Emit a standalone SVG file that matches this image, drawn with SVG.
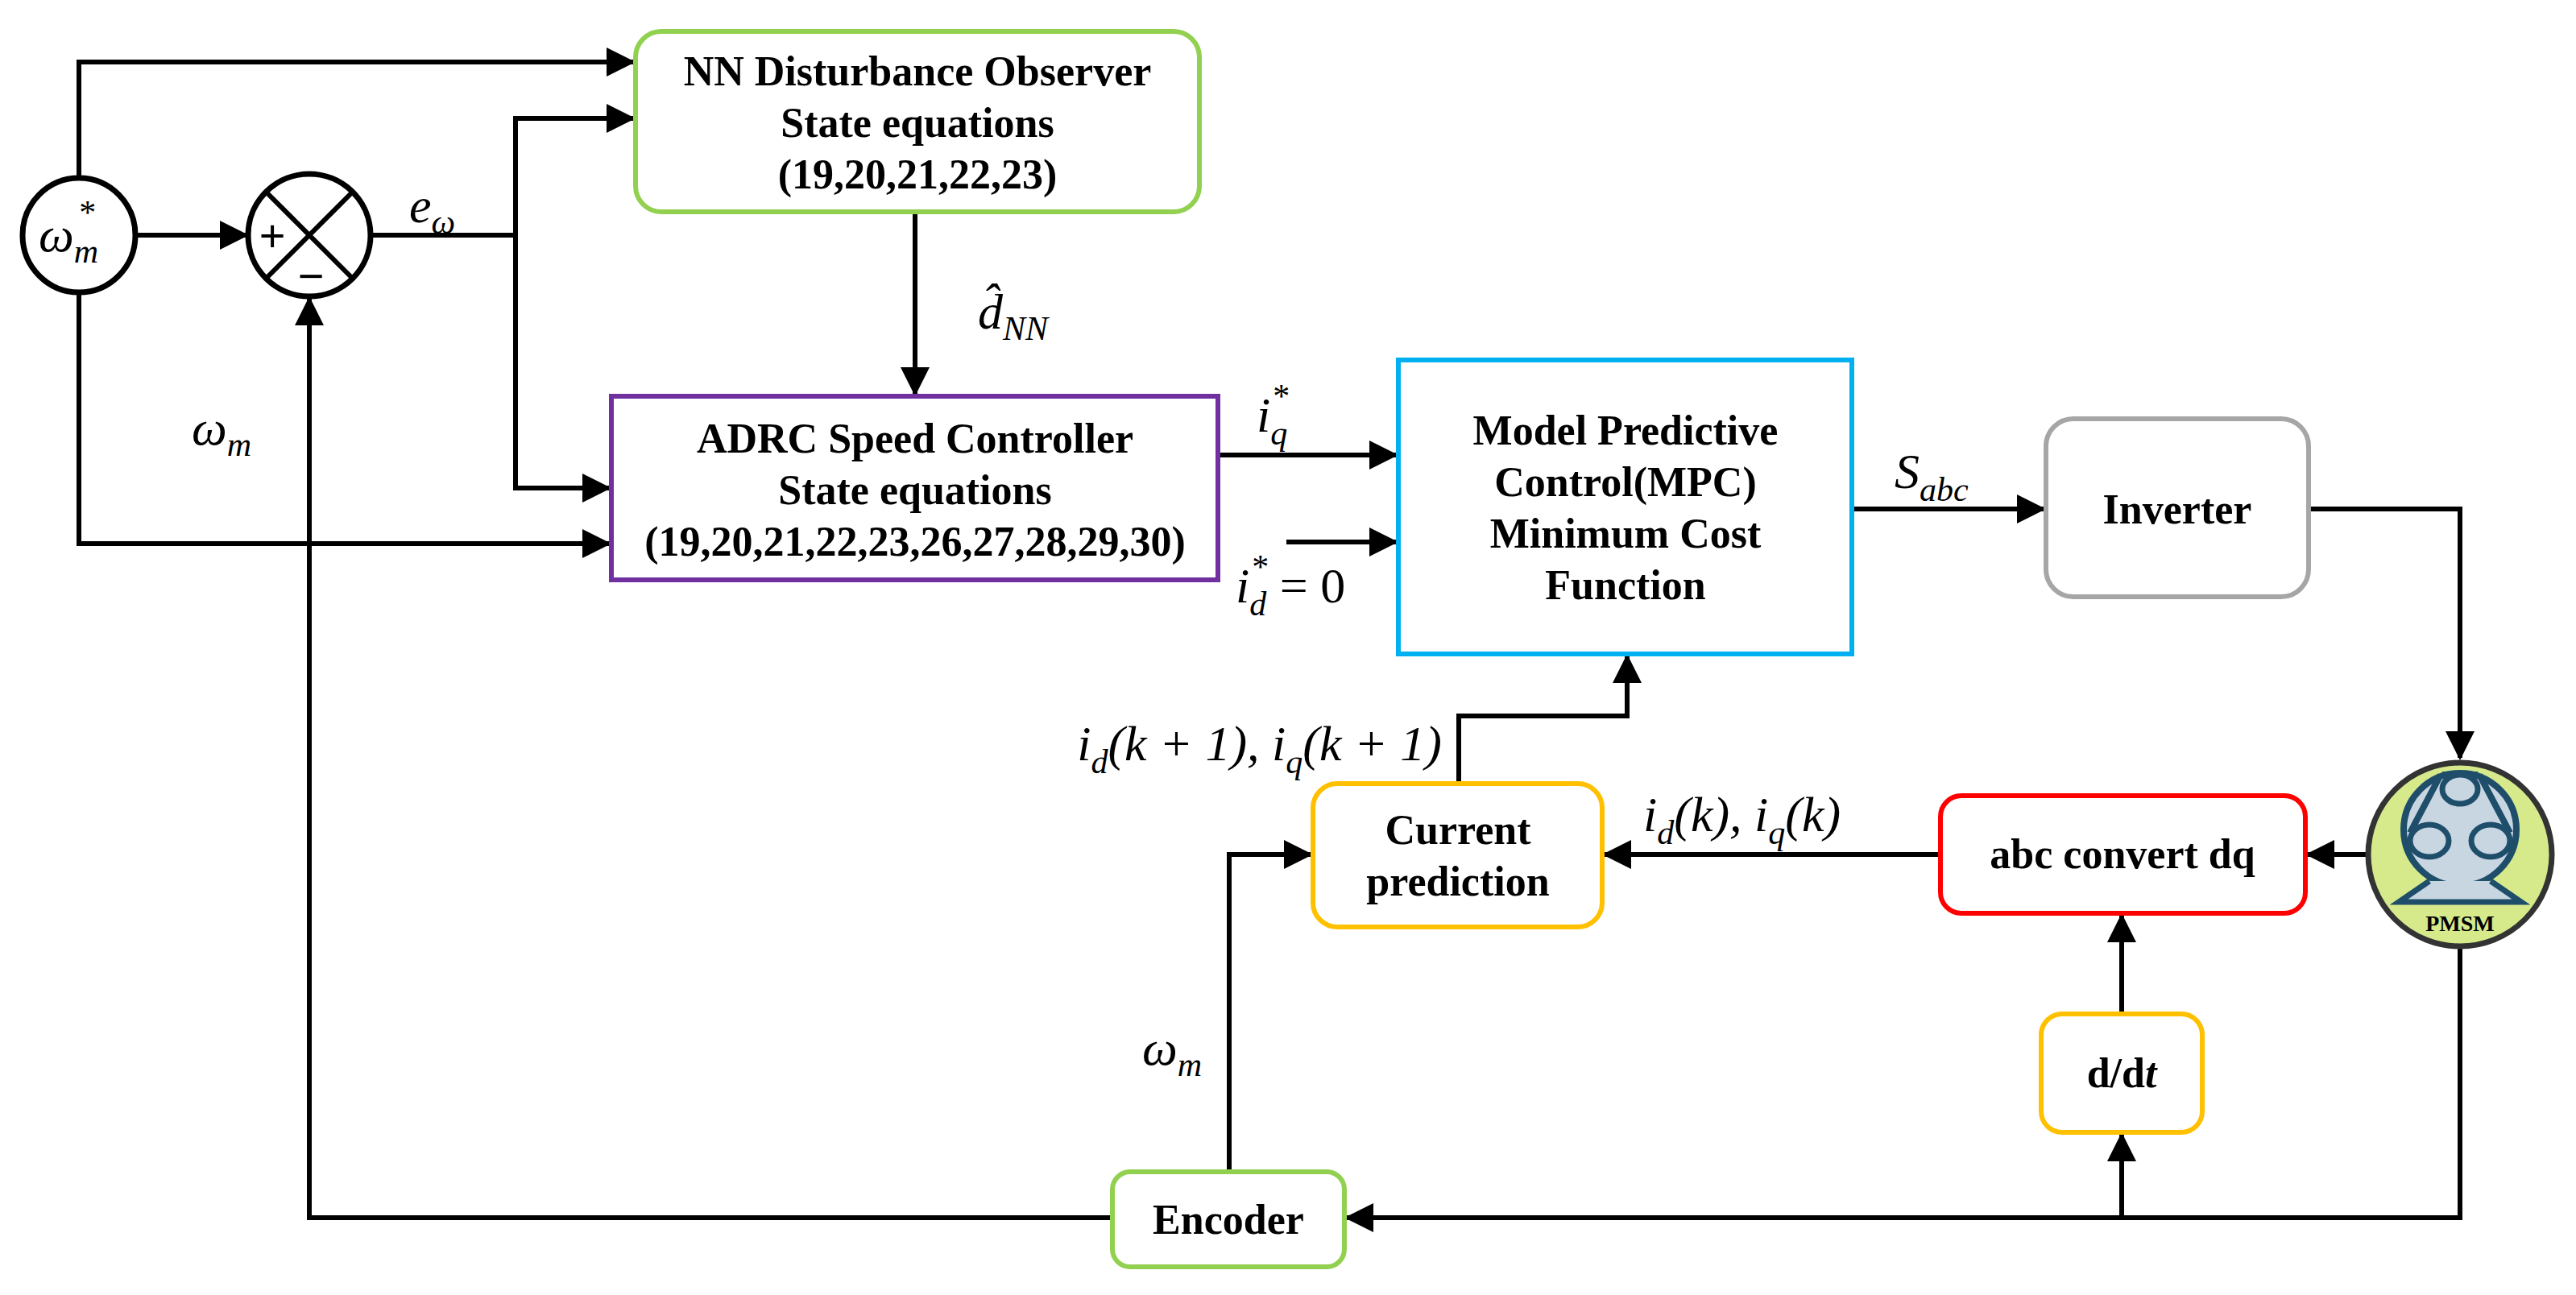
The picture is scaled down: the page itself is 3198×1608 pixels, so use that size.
<svg xmlns="http://www.w3.org/2000/svg" width="3198" height="1608" viewBox="0 0 3198 1608">
<style>
.b{font-family:"Liberation Serif",serif;font-weight:bold;font-size:52px;text-anchor:middle;fill:#000}
.m{font-family:"Liberation Serif",serif;font-style:italic;font-size:62px;fill:#000}
.s{font-size:42px}
.w{stroke:#000;stroke-width:6;fill:none}
.box{fill:#fff;stroke-width:6}
</style>
<defs>
<marker id="a" markerWidth="6" markerHeight="6" refX="5.5" refY="3" orient="auto" markerUnits="strokeWidth"><path d="M0,0L6,3L0,6z" fill="#000"/></marker>
</defs>
<rect width="3198" height="1608" fill="#fff"/>
<g id="connectors" class="w" marker-end="url(#a)">
<path d="M168,292H306"/>
<path d="M98,221V77H786"/>
<path d="M460,292H640V147H786"/>
<path d="M640,292V606H756"/>
<path d="M98,363V675H756"/>
<path d="M1136,263V489"/>
<path d="M1512,565H1733"/>
<path d="M1597,673H1733"/>
<path d="M2299,632H2537"/>
<path d="M2866,632H3054V941"/>
<path d="M2938,1061H2865"/>
<path d="M2409,1061H1992"/>
<path d="M1811,973V889H2020V815"/>
<path d="M1526,1455V1061H1627"/>
<path d="M3054,1177V1512H1672"/>
<path d="M2634,1512V1409"/>
<path d="M2634,1259V1137"/>
<path d="M1381,1512H384V371"/>
</g>
<g id="wref"><ellipse cx="98" cy="292" rx="70" ry="71" fill="#fff" stroke="#000" stroke-width="7"/>
<text class="m" x="48" y="312">ω<tspan class="s" dy="14">m</tspan><tspan class="s" dx="-26" dy="-48">*</tspan></text></g>
<g id="sum"><circle cx="384" cy="292" r="76" fill="#fff" stroke="#000" stroke-width="7"/>
<path d="M330,238L438,346M438,238L330,346" stroke="#000" stroke-width="6"/>
<text x="338" y="312" font-family="Liberation Sans,sans-serif" font-size="56" text-anchor="middle">+</text>
<text x="386" y="362" font-family="Liberation Sans,sans-serif" font-size="56" text-anchor="middle">−</text></g>
<g id="labels">
<text class="m" x="508" y="276">e<tspan class="s" dy="14">ω</tspan></text>
<text class="m" x="238" y="552">ω<tspan class="s" dy="14">m</tspan></text>
<text class="m" x="1214" y="408">d̂<tspan class="s" dy="14">NN</tspan></text>
<text class="m" x="1560" y="536">i<tspan class="s" dy="16">q</tspan><tspan class="s" dx="-20" dy="-46">*</tspan></text>
<text class="m" x="1534" y="748">i<tspan class="s" dy="16">d</tspan><tspan class="s" dx="-20" dy="-46">*</tspan><tspan font-style="normal" dy="30"> = 0</tspan></text>
<text class="m" x="2352" y="606">S<tspan class="s" dy="16">abc</tspan></text>
<text class="m" x="2040" y="1032">i<tspan class="s" dy="16">d</tspan><tspan dy="-16">(k),</tspan> i<tspan class="s" dy="16">q</tspan><tspan dy="-16">(k)</tspan></text>
<text class="m" x="1790" y="944" text-anchor="end">i<tspan class="s" dy="16">d</tspan><tspan dy="-16">(k + 1),</tspan> i<tspan class="s" dy="16">q</tspan><tspan dy="-16">(k + 1)</tspan></text>
<text class="m" x="1418" y="1322">ω<tspan class="s" dy="14">m</tspan></text>
</g>
<g id="nn"><rect class="box" x="789" y="39" width="700" height="224" rx="32" stroke="#92D050"/>
<text class="b" x="1139" y="106">NN Disturbance Observer</text>
<text class="b" x="1139" y="170">State equations</text>
<text class="b" x="1139" y="234">(19,20,21,22,23)</text></g>
<g id="adrc"><rect class="box" x="759" y="492" width="753" height="228" stroke="#7030A0"/>
<text class="b" x="1136" y="562">ADRC Speed Controller</text>
<text class="b" x="1136" y="626">State equations</text>
<text class="b" x="1136" y="690">(19,20,21,22,23,26,27,28,29,30)</text></g>
<g id="mpc"><rect class="box" x="1736" y="447" width="563" height="365" stroke="#00B0F0"/>
<text class="b" x="2018" y="552">Model Predictive</text>
<text class="b" x="2018" y="616">Control(MPC)</text>
<text class="b" x="2018" y="680">Minimum Cost</text>
<text class="b" x="2018" y="744">Function</text></g>
<g id="inv"><rect class="box" x="2540" y="520" width="326" height="221" rx="34" stroke="#A6A6A6"/>
<text class="b" x="2703" y="650">Inverter</text></g>
<g id="pmsm"><circle cx="3054" cy="1061" r="114" fill="#D6EA8C" stroke="#333" stroke-width="7"/>
<circle cx="3054" cy="1030" r="70" fill="#C8D6E2" stroke="#1F4E6B" stroke-width="8"/>
<path d="M3030,962L2992,1034M3078,962L3116,1034M3032,962H3076" stroke="#1F4E6B" stroke-width="8" fill="none"/>
<ellipse cx="3054" cy="980" rx="22" ry="18" fill="#C8D6E2" stroke="#1F4E6B" stroke-width="7"/>
<ellipse cx="3016" cy="1044" rx="24" ry="20" fill="#C8D6E2" stroke="#1F4E6B" stroke-width="7"/>
<ellipse cx="3092" cy="1044" rx="24" ry="20" fill="#C8D6E2" stroke="#1F4E6B" stroke-width="7"/>
<path d="M3016,1094L2978,1120H3130L3092,1094" fill="#C8D6E2" stroke="#1F4E6B" stroke-width="7"/>
<text class="b" x="3054" y="1156" style="font-size:28px">PMSM</text></g>
<g id="abc"><rect class="box" x="2409" y="988" width="453" height="146" rx="26" stroke="#FF0000"/>
<text class="b" x="2635" y="1078">abc convert dq</text></g>
<g id="cp"><rect class="box" x="1630" y="973" width="359" height="178" rx="30" stroke="#FFC000"/>
<text class="b" x="1810" y="1048">Current</text>
<text class="b" x="1810" y="1112">prediction</text></g>
<g id="ddt"><rect class="box" x="2534" y="1259" width="200" height="147" rx="26" stroke="#FFC000"/>
<text class="b" x="2634" y="1350">d/d<tspan font-style="italic">t</tspan></text></g>
<g id="enc"><rect class="box" x="1381" y="1455" width="288" height="118" rx="22" stroke="#92D050"/>
<text class="b" x="1525" y="1532">Encoder</text></g>
</svg>
